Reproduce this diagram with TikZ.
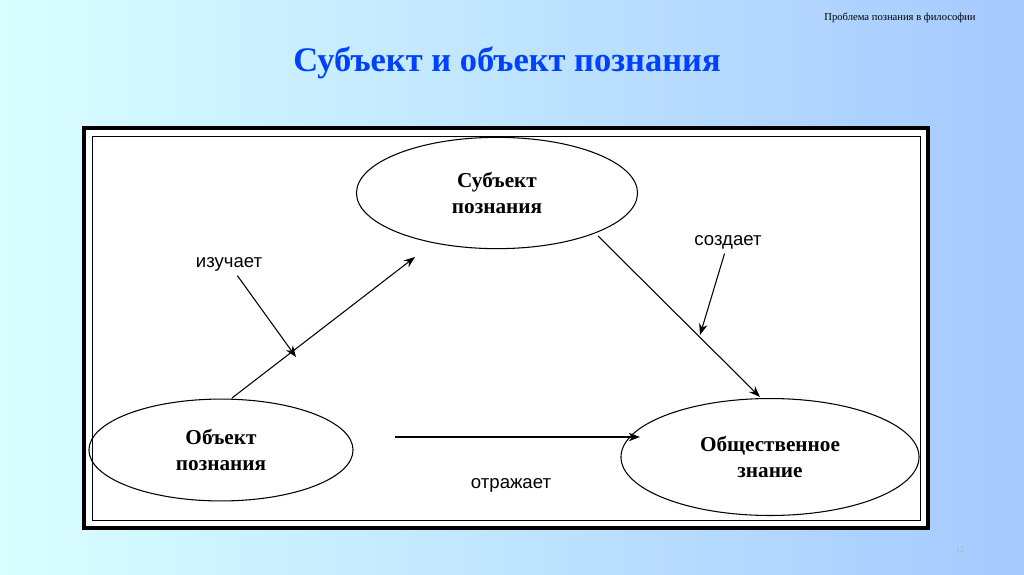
\documentclass[tikz,border=0pt]{standalone}
\usepackage{fontspec}
\setmainfont{Liberation Serif}
\newfontfamily\labelfont{Liberation Sans}
\usetikzlibrary{arrows.meta,shapes.geometric}

\begin{document}
\begin{tikzpicture}[
    x=0.0265cm, y=-0.0265cm,
    oval/.style={ellipse, draw, thick, align=center, font=\bfseries\fontsize{16}{20}\selectfont, inner sep=0pt},
    arrow/.style={-{Stealth[length=3mm]}, thick},
    tag/.style={font=\labelfont\fontsize{14}{16}\selectfont}
]
    % slide background
    \shade[left color=cyan!15, right color=cyan!40!blue!35] (0,0) rectangle (1024,574);
    \useasboundingbox (0,0) rectangle (1024,574);
    \node (header) at (900,18) {\fontsize{8}{10}\selectfont Проблема познания в философии};
    \node[text=blue!75!cyan, font=\bfseries\fontsize{26}{30}\selectfont] (title) at (507,63) {Субъект и объект познания};
    \node[text=gray!60, font=\fontsize{6}{8}\selectfont] (page) at (960,550) {12};

    % frame
    \draw[line width=3pt, fill=white] (84,128) rectangle (928,528);
    \draw (92,136) rectangle (920,520);

    \node[oval, minimum width=7.45cm, minimum height=2.95cm] (subject) at (497,193) {Субъект\\познания};
    \node[oval, minimum width=7.0cm, minimum height=2.7cm] (object) at (221,450) {Объект\\познания};
    \node[oval, minimum width=7.9cm, minimum height=3.1cm] (knowledge) at (770,457) {Общественное\\знание};

    \node[tag] (studies) at (229,264) {изучает};
    \node[tag] (creates) at (728,242) {создает};
    \node[tag] (reflects) at (511,485) {отражает};

    \coordinate (a1) at (232,398);
    \coordinate (a2) at (415,257);
    \coordinate (b1) at (598,236);
    \coordinate (b2) at (760,397);
    \coordinate (c1) at (395,437);
    \coordinate (c2) at (640,437);
    \coordinate (s1) at (296,357);
    \coordinate (s2) at (700,335);

    \draw[arrow] (a1) -- (a2);
    \draw[arrow] (b1) -- (b2);
    \draw[arrow] (c1) -- (c2);
    \draw[arrow] (studies) -- (s1);
    \draw[arrow] (creates) -- (s2);
\end{tikzpicture}
\end{document}
